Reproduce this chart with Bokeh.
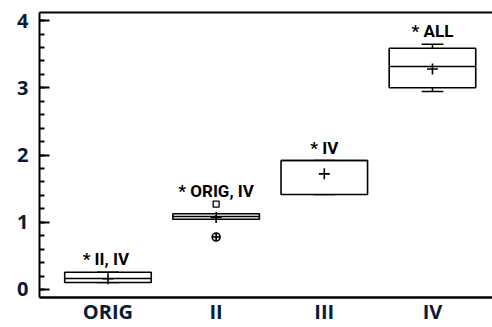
from bokeh.plotting import figure
from bokeh.models import LinearAxis, SingleIntervalTicker, FixedTicker, ColumnDataSource
from bokeh.core.properties import value
from bokeh.embed import file_html
from bokeh.resources import INLINE

# ---- data ----
categories = ["ORIG", "II", "III", "IV"]
q1 = [0.104, 1.045, 1.413, 3.000]
median = [0.164, 1.085, 1.918, 3.316]
q3 = [0.257, 1.126, 1.918, 3.588]
whisker_low = [0.104, 1.045, 1.413, 2.944]
whisker_high = [0.257, 1.126, 1.918, 3.648]
means = [0.16, 1.07, 1.72, 3.28]
outlier_square_group = ["II"]
outlier_square_value = [1.27]
outlier_circle_group = ["II"]
outlier_circle_value = [0.78]
sig_labels = ["* II,  IV", "* ORIG, IV", "* IV", "* ALL"]

# ---- derived positions ----
xs = list(range(1, len(categories) + 1))
pos = {c: i + 1 for i, c in enumerate(categories)}
box_w = 0.80
cap_w = 0.20
label_y = []
for c, wh in zip(categories, whisker_high):
    vals = [wh]
    vals += [v for g, v in zip(outlier_square_group, outlier_square_value) if g == c]
    vals += [v for g, v in zip(outlier_circle_group, outlier_circle_value) if g == c]
    label_y.append(max(vals))

src = ColumnDataSource(dict(
    x=xs, q1=q1, q3=q3, med=median, lo=whisker_low, hi=whisker_high, mean=means,
    x0=[x - box_w / 2 for x in xs], x1=[x + box_w / 2 for x in xs],
    c0=[x - cap_w / 2 for x in xs], c1=[x + cap_w / 2 for x in xs],
    label=sig_labels, ly=label_y,
))

p = figure(frame_width=453, frame_height=285,
           x_range=(0.367, 4.555), y_range=(-0.119, 4.12),
           output_backend="svg", toolbar_location=None,
           min_border_left=39, min_border_right=0, min_border_top=12, min_border_bottom=0)
p.grid.visible = False
p.outline_line_color = None
p.background_fill_color = "white"
p.border_fill_color = "white"

label_color = "#0b1a33"

# left axis
ya = p.yaxis[0]
ya.ticker = SingleIntervalTicker(interval=1, num_minor_ticks=5)
ya.major_tick_in = 10
ya.major_tick_out = 0
ya.minor_tick_in = 5
ya.minor_tick_out = 0
ya.axis_line_width = 2
ya.major_tick_line_width = 2
ya.minor_tick_line_width = 2
ya.major_label_text_font = "Open Sans"
ya.major_label_text_font_style = "bold"
ya.major_label_text_font_size = "20px"
ya.major_label_text_color = label_color
ya.major_label_standoff = 11

# bottom axis
xa = p.xaxis[0]
xa.ticker = FixedTicker(ticks=xs)
xa.major_label_overrides = {x: c for x, c in zip(xs, categories)}
xa.major_tick_in = 0
xa.major_tick_out = 0
xa.minor_tick_in = 0
xa.minor_tick_out = 0
xa.axis_line_width = 2.5
xa.major_label_text_font = "Open Sans"
xa.major_label_text_font_style = "bold"
xa.major_label_text_font_size = "20px"
xa.major_label_text_color = label_color
xa.major_label_standoff = 0

# top line of the frame (no ticks, no labels)
ta = LinearAxis(ticker=FixedTicker(ticks=[]), axis_line_width=2,
                major_tick_in=0, major_tick_out=0, minor_tick_in=0, minor_tick_out=0,
                major_label_standoff=0)
p.add_layout(ta, "above")

# whiskers and caps
p.segment(x0="x", y0="q3", x1="x", y1="hi", source=src, line_color="black", line_width=1.5)
p.segment(x0="x", y0="q1", x1="x", y1="lo", source=src, line_color="black", line_width=1.5)
p.segment(x0="c0", y0="hi", x1="c1", y1="hi", source=src, line_color="black", line_width=1.5)
p.segment(x0="c0", y0="lo", x1="c1", y1="lo", source=src, line_color="black", line_width=1.5)

# boxes
p.vbar(x="x", width=box_w, top="q3", bottom="q1", source=src,
       fill_color="white", line_color="black", line_width=1.6)
p.segment(x0="x0", y0="med", x1="x1", y1="med", source=src, line_color="black", line_width=1.5)

# means
p.scatter(x="x", y="mean", source=src, marker="cross", size=11,
          line_color="black", line_width=1.6)

# outliers
p.scatter(x=[pos[g] for g in outlier_square_group], y=outlier_square_value,
          marker="square", size=6, fill_color="white", line_color="black", line_width=1.3)
p.scatter(x=[pos[g] for g in outlier_circle_group], y=outlier_circle_value,
          marker="circle_cross", size=8, fill_color="#dddddd", line_color="black", line_width=1.6)

# significance labels
p.text(x="x", y="ly", text="label", source=src, y_offset=-13,
       text_align="center", text_baseline="alphabetic",
       text_font=value("Roboto"), text_font_style="bold",
       text_font_size="17px", text_color="black")

open("out.html", "w").write(file_html(p, INLINE))
